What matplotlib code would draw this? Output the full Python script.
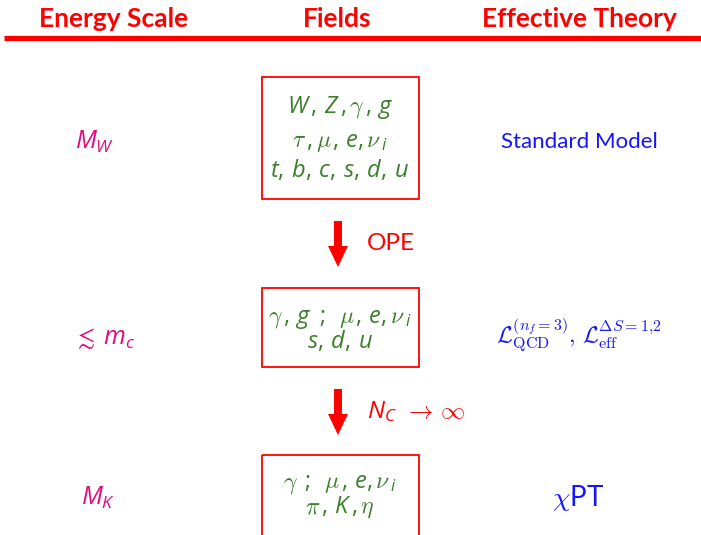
import matplotlib
matplotlib.use('Agg')
import matplotlib.pyplot as plt
from matplotlib.patches import Rectangle

# column headers
headers = ["Energy Scale", "Fields", "Effective Theory"]

# one entry per level, top to bottom.
# '|' splits a string into pieces: even pieces use the sans italic math font,
# odd pieces use Computer Modern (greek letters, arrows, etc.)
energy_labels = [r"$M_W$", r"|$\lesssim$|$\ m_c$", r"$M_K$"]
field_lines = [
    [r"$W\,,\,Z\,,$|$\,\gamma$|$,\,g$",
     r"|$\tau$|$,$|$\,\mu$|$,\,e,$|$\,\nu$|$_i$",
     r"$t,\,b,\,c,\,s,\,d,\,u$"],
    [r"|$\gamma$|$,\,g\ \,;$|$\ \ \mu$|$,\,e,$|$\,\nu$|$_i$",
     r"$s,\,d,\,u$"],
    [r"|$\gamma$|$\ ;$|$\ \ \mu$|$,\,e,$|$\,\nu$|$_i$",
     r"|$\pi$|$,\,K\,,$|$\,\eta$|"],
]
theory_labels = [
    "Standard Model",
    r"$\mathcal{L}_{\rm QCD}^{(n_f=3)}{,}\ \mathcal{L}_{\rm eff}^{\Delta S=1{,}2}$",
    r"$\chi$PT",
]
arrow_labels = ["OPE", r"$N_C$|$\ \rightarrow\,\infty$|"]

RED = "#ff0000"
GREEN = "#3b7f2b"
MAGENTA = "#e5097f"
BLUE = "#1414ff"

plt.rcParams['mathtext.fontset'] = 'custom'
plt.rcParams['mathtext.rm'] = 'Open Sans'
plt.rcParams['mathtext.it'] = 'Open Sans:italic'
plt.rcParams['mathtext.bf'] = 'Open Sans:bold'
plt.rcParams['mathtext.sf'] = 'Open Sans'
plt.rcParams['font.family'] = ['Lato', 'DejaVu Sans']

fig = plt.figure(figsize=(7.01, 5.35), dpi=100)
ax = fig.add_axes([0, 0, 1, 1])
ax.set_xlim(0, 701)
ax.set_ylim(535, 0)
ax.axis('off')
renderer = fig.canvas.get_renderer()


def mixed_text(x, y, s, ha='center', **kw):
    # draws the pieces of s side by side on one baseline
    pieces = s.split('|')
    texts = []
    for k, p in enumerate(pieces):
        if not p:
            continue
        fam = 'cm' if k % 2 else 'custom'
        t = ax.text(0, y, p, va='baseline', ha='left', math_fontfamily=fam, **kw)
        texts.append(t)
    widths = [t.get_window_extent(renderer).width for t in texts]
    total = sum(widths)
    x0 = x - total / 2 if ha == 'center' else x
    for t, w in zip(texts, widths):
        t.set_x(x0)
        x0 += w


# header row
col_x = [114, 337, 579]
for x, h in zip(col_x, headers):
    ax.text(x, 19, h, color=RED, fontsize=19, fontweight='bold',
            ha='center', va='center')
ax.plot([4, 701], [38, 38], color=RED, lw=3.8, solid_capstyle='butt')

# levels
box_top = [77, 288, 455]
box_bot = [199, 367, 545]
energy_y = [149, 345, 505]
energy_x = [95, 104, 98]
baselines = [[113, 147, 177], [323, 348], [488, 513]]

for i in range(3):
    mixed_text(energy_x[i], energy_y[i], energy_labels[i], color=MAGENTA,
               fontsize=18)
    ax.add_patch(Rectangle((262, box_top[i]), 157, box_bot[i] - box_top[i],
                           fill=False, edgecolor=RED, lw=1.3))
    for y, s in zip(baselines[i], field_lines[i]):
        mixed_text(340, y, s, color=GREEN, fontsize=17)

ax.text(579, 142, theory_labels[0], color=BLUE, fontsize=16,
        ha='center', va='center')
ax.text(579, 335, theory_labels[1], color=BLUE, fontsize=16.5,
        ha='center', va='center', math_fontfamily='cm')
ax.text(578, 498, theory_labels[2], color=BLUE, fontsize=20,
        ha='center', va='center', math_fontfamily='cm')

# arrows between levels
arrow_top = [221, 389]
for y0, lab in zip(arrow_top, arrow_labels):
    ax.arrow(338, y0, 0, 46, width=8, head_width=20, head_length=21,
             length_includes_head=True, color=RED, lw=0)
    mixed_text(367, y0 + 29, lab, ha='left', color=RED, fontsize=17.5)

fig.savefig("out.png", dpi=100)
